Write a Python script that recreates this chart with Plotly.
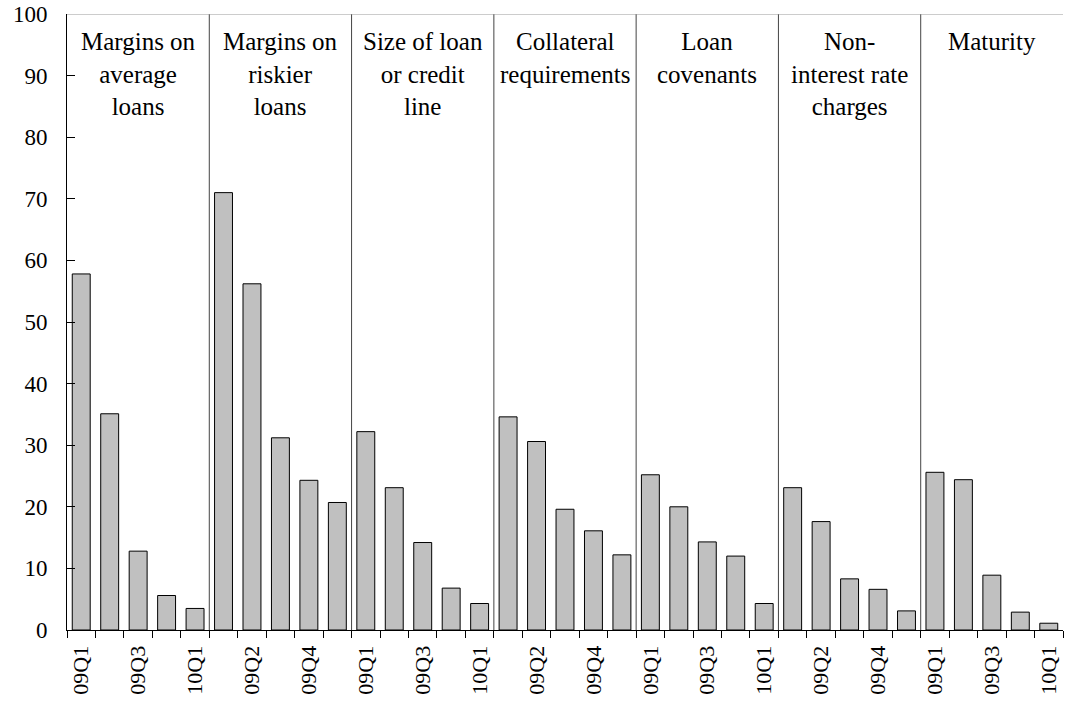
import plotly.graph_objects as go

groups = ["Margins on<br>average<br>loans", "Margins on<br>riskier<br>loans",
          "Size of loan<br>or credit<br>line", "Collateral<br>requirements",
          "Loan<br>covenants", "Non-<br>interest rate<br>charges", "Maturity"]
quarters = ["09Q1", "09Q2", "09Q3", "09Q4", "10Q1"]
values = [
    [57.8, 35.1, 12.8, 5.6, 3.5],
    [71.0, 56.2, 31.2, 24.3, 20.7],
    [32.2, 23.1, 14.2, 6.8, 4.3],
    [34.6, 30.6, 19.6, 16.1, 12.2],
    [25.2, 20.0, 14.3, 12.0, 4.3],
    [23.1, 17.6, 8.3, 6.6, 3.1],
    [25.6, 24.4, 8.9, 2.9, 1.1],
]

n = len(quarters)
x = []
y = []
labels = []
for gi, vals in enumerate(values):
    for qi, v in enumerate(vals):
        x.append(gi * n + qi)
        y.append(v)
        labels.append(quarters[qi])

tickvals = [i for i in x if i % 2 == 0]
ticktext = [labels[i] for i in tickvals]

font = "Liberation Serif, Times New Roman, serif"

fig = go.Figure(go.Bar(
    x=x, y=y, width=0.63,
    marker=dict(color="#C0C0C0", line=dict(color="#000000", width=1)),
))

shapes = []
for gi in range(1, len(groups)):
    b = gi * n - 0.5
    shapes.append(dict(type="line", xref="x", yref="y", x0=b, x1=b, y0=0, y1=100,
                       line=dict(color="#444444", width=1)))
shapes.append(dict(type="line", xref="x", yref="y", x0=-0.5, x1=len(x) - 0.5, y0=100, y1=100,
                   line=dict(color="#999999", width=1)))

annotations = []
for gi, g in enumerate(groups):
    annotations.append(dict(x=gi * n + (n - 1) / 2, y=98, xref="x", yref="y", text=g,
                            showarrow=False, yanchor="top", xanchor="center",
                            font=dict(family=font, size=25, color="#000"), align="center"))

fig.update_layout(
    width=1065, height=702,
    margin=dict(l=67, r=2, t=14, b=72),
    paper_bgcolor="white", plot_bgcolor="white",
    showlegend=False,
    shapes=shapes, annotations=annotations,
    font=dict(family=font, color="#000"),
    xaxis=dict(range=[-0.5, len(x) - 0.5], tickvals=tickvals, ticktext=ticktext,
               tickangle=-90, ticks="", showline=True, linecolor="#000", linewidth=1,
               showgrid=False, zeroline=False, automargin=False, ticklabelstandoff=6,
               tickfont=dict(family=font, size=22, color="#000"),
               minor=dict(tick0=-0.5, dtick=1, ticks="outside", ticklen=7, tickcolor="#000",
                          showgrid=False)),
    yaxis=dict(range=[0, 100], dtick=10, ticks="inside", ticklen=8, tickcolor="#000",
               showline=True, linecolor="#000", linewidth=1, showgrid=False, zeroline=False,
               automargin=False,
               tickfont=dict(family=font, size=23, color="#000"), ticklabelstandoff=14),
)

fig.write_html("out.html", config={"displayModeBar": False},
               post_script="document.body.style.margin='0';document.body.style.overflow='hidden';")
